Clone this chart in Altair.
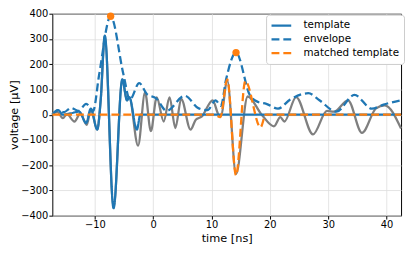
import altair as alt
import pandas as pd

# grey measured trace
trace_t = [-17.3, -16.4, -15.5, -14.8, -13.5, -12.5, -11.4, -10.7, -9.6, -9.0, -8.3, -6.8, -5.3, -4.5, -4.1,
           -2.6, -1.4, -0.4, 0.6, 1.8, 2.8, 3.8, 4.8, 6.4, 7.3, 8.3, 10.2, 11.2, 11.6, 12.7, 14.2,
           16.2, 18.6, 20.7, 21.8, 22.5, 24.5, 27.4, 29.8, 31.0, 33.4, 35.8, 38.2, 39.7, 42.5]
trace_v = [5, 10, -14, 2, -27, 5, -40, 20, -59, 60, 313, -370, 140, 57, 69,
           -123, 88, -65, 69, -27, 69, -53, 63, -59, -20, -8, 57, 0, -5, 135, -235,
           72, 0, -46, -10, -27, 70, -78, 15, 12, 57, -72, 25, 37, -55]

# template
tmpl_t = [-17.3, -16.3, -15.5, -14.2, -12.7, -11.5, -10.7, -9.6, -9.0, -8.3, -6.8, -5.3, -4.5, -4.1, -2.8, -2.2, 42.5]
tmpl_v = [0, 18, 0, 5, 12, -33, 24, -59, 60, 313, -370, 140, 57, 69, -59, 0, 0]

# envelope
env_t = [-17.3, -16.3, -15.3, -14.1, -12.8, -11.5, -10.3, -9.3, -7.3, -5.1, -4.0, -2.4, -1.1, 0.5, 2.3,
         5.4, 7.8, 9.3, 10.7, 11.6, 12.5, 14.2, 16.6, 18.0, 19.4, 21.4, 23.5, 26.6, 28.5, 31.4,
         34.5, 37.5, 39.5, 42.5]
env_v = [0, 18, 10, 27, 15, 43, 15, 154, 390, 159, 60, 125, 82, 65, 15,
         75, 25, 18, 57, 35, 140, 246, 76, 50, 43, 24, 60, 85, 57, 12,
         78, 24, 40, 57]

# matched template
match_t = [-17.3, 10.5, 11.5, 12.7, 14.2, 15.8, 18.4, 19.3, 42.5]
match_v = [0, 0, -10, 140, -240, 133, -50, 0, 0]

# peak markers
peak_t = [-7.3, 14.2]
peak_v = [390, 246]

series_names = ["template", "envelope", "matched template"]
x_ticks = [-10, 0, 10, 20, 30, 40]
y_ticks = [-400, -300, -200, -100, 0, 100, 200, 300, 400]

grey_df = pd.DataFrame({"t": trace_t, "v": trace_v})
lines_df = pd.concat([
    pd.DataFrame({"t": tmpl_t, "v": tmpl_v, "series": series_names[0], "o": 0}),
    pd.DataFrame({"t": env_t, "v": env_v, "series": series_names[1], "o": 1}),
    pd.DataFrame({"t": match_t, "v": match_v, "series": series_names[2], "o": 2}),
])
peak_df = pd.DataFrame({"t": peak_t, "v": peak_v})

xs = alt.Scale(domain=[-17.3, 42.5], nice=False, zero=False)
ys = alt.Scale(domain=[-400, 400], nice=False)

xax = alt.Axis(values=x_ticks, title="time [ns]", grid=True, labelOverlap=False)
yax = alt.Axis(values=y_ticks, title="voltage [μV]", grid=True, labelOverlap=False, titleX=-33)

X = alt.X("t:Q", scale=xs, axis=xax)
Y = alt.Y("v:Q", scale=ys, axis=yax)

grey = alt.Chart(grey_df).mark_line(color="#7f7f7f", strokeWidth=2.3, interpolate="monotone").encode(
    x=X, y=Y,
)

lines = alt.Chart(lines_df).mark_line(strokeWidth=2.3, interpolate="monotone").encode(
    x=X, y=Y,
    color=alt.Color("series:N", scale=alt.Scale(domain=series_names, range=["#1f77b4", "#1f77b4", "#ff7f0e"]),
                    legend=alt.Legend(title=None, orient="none", legendX=217, legendY=1,
                                      symbolType="stroke", symbolStrokeWidth=2.3, symbolSize=400,
                                      clipHeight=14, labelFontSize=10.5, labelFont="DejaVu Sans",
                                      labelColor="black", fillColor="white", strokeColor="#cccccc",
                                      cornerRadius=3, padding=4, rowPadding=0, labelOffset=11)),
    strokeDash=alt.StrokeDash("series:N", scale=alt.Scale(domain=series_names, range=[[1, 0], [8, 4], [8, 4]]),
                              legend=alt.Legend(title=None)),
    detail="series:N",
    order="o:Q",
)

peaks = alt.Chart(peak_df).mark_circle(color="#ff7f0e", size=55, opacity=1).encode(
    x=X, y=Y,
)

chart = alt.layer(grey, lines, peaks).properties(
    width=354, height=205,
    autosize=alt.AutoSizeParams(type="none"),
    padding={"left": 45, "top": 4, "right": 4, "bottom": 28},
).configure_view(stroke="black", strokeWidth=1).configure_axis(
    gridColor="#dcdcdc", gridWidth=0.8, domain=False, tickColor="black", tickSize=3.5,
    labelFont="DejaVu Sans", labelFontSize=10, labelColor="black", labelPadding=1,
    titleFont="DejaVu Sans", titleFontSize=11.5, titleFontWeight="normal", titleColor="black",
).configure_axisX(titlePadding=3)

chart.save("out.html", embed_options={"renderer": "svg", "actions": False})
